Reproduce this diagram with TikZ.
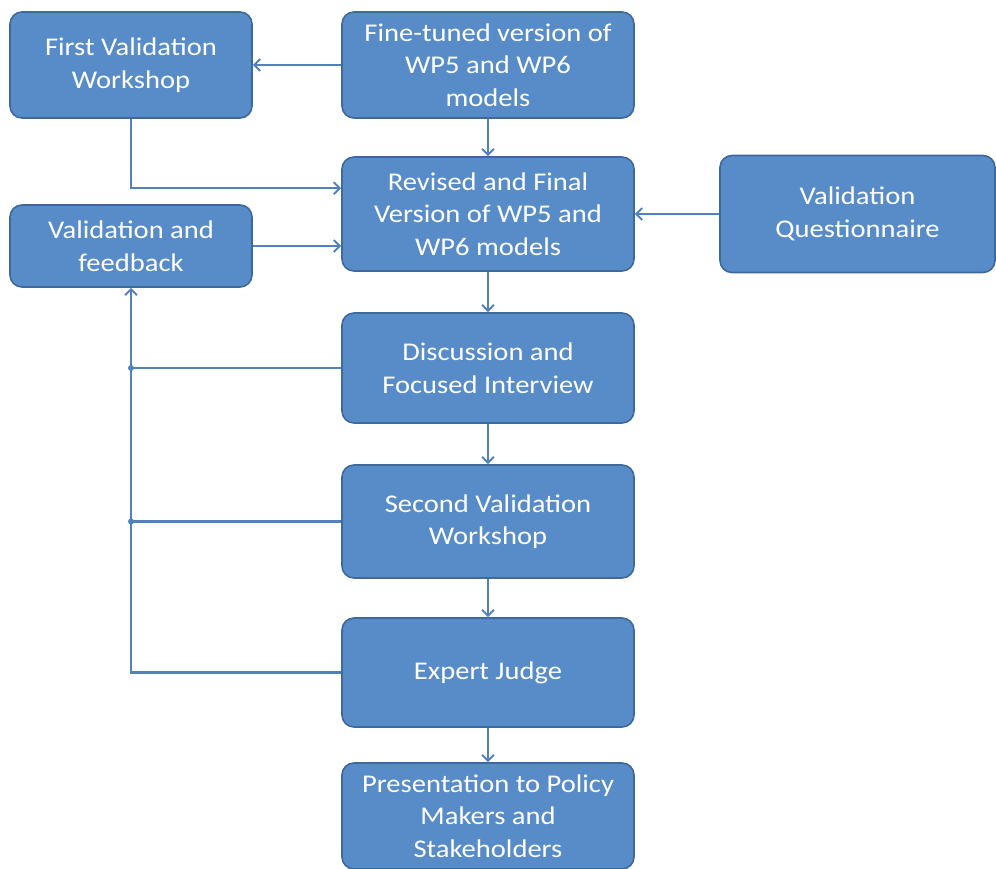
\documentclass[tikz,border=0pt]{standalone}
\usepackage{fontspec}
\setmainfont{Carlito}[FakeStretch=1.12]
\usetikzlibrary{arrows.meta}
\definecolor{boxfill}{RGB}{88,140,200}
\definecolor{boxline}{RGB}{62,105,155}
\definecolor{linkcol}{RGB}{82,130,190}
\tikzset{
  stage/.style={draw=boxline, line width=1.6pt, fill=boxfill, rounded corners=12pt,
    text=white, align=center, inner sep=0pt,
    font=\fontsize{25.5}{32.5}\selectfont},
  link/.style={draw=linkcol, line width=2.2pt,
    -{Straight Barb[length=6pt,width=12pt,line width=2pt]}},
  plain/.style={draw=linkcol, line width=2.2pt},
  junction/.style={circle, fill=linkcol, inner sep=0pt, minimum size=6pt}
}
\begin{document}
\begin{tikzpicture}[x=1pt,y=1pt]
\useasboundingbox (0,0) rectangle (996,-868);

\node[stage, minimum width=242, minimum height=106] (first) at (131,-65)
  {First Validation\\Workshop};
\node[stage, minimum width=292, minimum height=106] (fine) at (488,-65)
  {Fine-tuned version of\\WP5 and WP6\\models};
\node[stage, minimum width=292, minimum height=114] (revised) at (488,-214)
  {Revised and Final\\Version of WP5 and\\WP6 models};
\node[stage, minimum width=242, minimum height=82] (feedback) at (131,-246)
  {Validation and\\feedback};
\node[stage, minimum width=275, minimum height=117] (quest) at (857.5,-214)
  {Validation\\Questionnaire};
\node[stage, minimum width=292, minimum height=110] (discuss) at (488,-368)
  {Discussion and\\Focused Interview};
\node[stage, minimum width=292, minimum height=113] (second) at (488,-521.5)
  {Second Validation\\Workshop};
\node[stage, minimum width=292, minimum height=109] (expert) at (488,-672.5)
  {Expert Judge};
\node[stage, minimum width=292, minimum height=106] (present) at (488,-816)
  {Presentation to Policy\\Makers and\\Stakeholders};

% main flow
\draw[link] (fine.west) -- (first.east);
\draw[link] (fine.south) -- (revised.north);
\draw[link] (first.south) |- ([yshift=-32pt]revised.north west);
\draw[link] (feedback.east) -- (feedback.east -| revised.west);
\draw[link] (quest.west) -- (quest.west -| revised.east);
\draw[link] (revised.south) -- (discuss.north);
\draw[link] (discuss.south) -- (second.north);
\draw[link] (second.south) -- (expert.north);
\draw[link] (expert.south) -- (present.north);

% feedback loop
\coordinate (jd) at (discuss.west -| feedback.south);
\coordinate (js) at (second.west -| feedback.south);
\draw[link] (expert.west) -| (feedback.south);
\draw[plain] (discuss.west) -- (jd);
\draw[plain] (second.west) -- (js);
\node[junction] at (jd) {};
\node[junction] at (js) {};
\end{tikzpicture}
\end{document}
